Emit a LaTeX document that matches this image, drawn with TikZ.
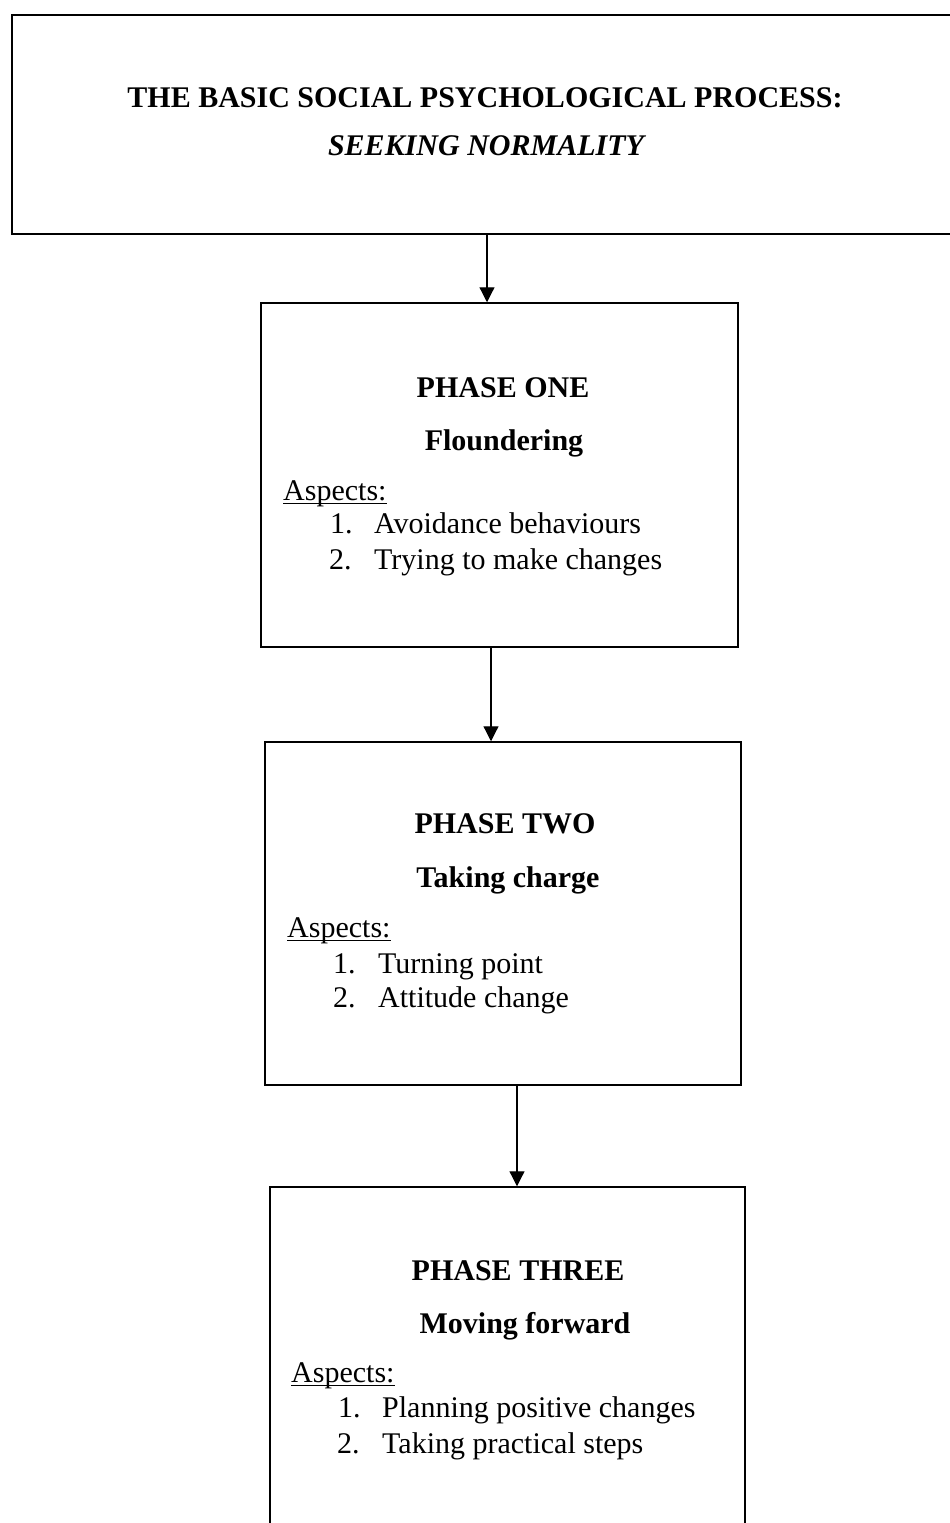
\documentclass[tikz,border=0pt]{standalone}
\usepackage{fontspec}
\setmainfont{Liberation Serif}
\usetikzlibrary{arrows.meta}
\begin{document}
\begin{tikzpicture}[x=1pt,y=-1pt,
  boxs/.style={draw=black,line width=1.5pt,rectangle,inner sep=0pt},
  arr/.style={line width=1.2pt,-{Triangle[length=15pt,width=15pt]}},
  uline/.style={line width=1.2pt},
  txt/.style={anchor=base,inner sep=0pt,font=\fontsize{30}{36}\selectfont},
  txtl/.style={anchor=base west,inner sep=0pt,font=\fontsize{30}{36}\selectfont}]
\useasboundingbox (0,0) rectangle (950,1523);
\clip (0,0) rectangle (950,1523);
\node[boxs,minimum width=948pt,minimum height=219pt] (top) at (486,124.5) {};
\node[boxs,minimum width=477pt,minimum height=344pt] (b1) at (499.5,475) {};
\node[boxs,minimum width=476pt,minimum height=343pt] (b2) at (503,913.5) {};
\node[boxs,minimum width=475pt,minimum height=353pt] (b3) at (507.5,1363.5) {};
% arrows
\coordinate (x1) at (487,0);
\coordinate (x2) at (491,0);
\coordinate (x3) at (517,0);
\draw[arr] (x1 |- top.south) -- (x1 |- b1.north);
\draw[arr] (x2 |- b1.south) -- (x2 |- b2.north);
\draw[arr] (x3 |- b2.south) -- (x3 |- b3.north);
% title
\node[txt] (t1) at (485,107) {\bfseries THE BASIC SOCIAL PSYCHOLOGICAL PROCESS:};
\node[txt] (t2) at (486,155) {\bfseries\itshape SEEKING NORMALITY};
% box 1
\node[txt] (p1) at (503,397) {\bfseries PHASE ONE};
\node[txt] (n1) at (504,450) {\bfseries Floundering};
\node[txtl] (a1) at (283,500) {Aspects:};
\draw[uline] ([yshift=-3.5pt]a1.base west) -- ([yshift=-3.5pt]a1.base east);
\node[txtl] (a1n1) at (330,533) {1.};
\node[txtl] (a1t1) at (374,533) {Avoidance behaviours};
\node[txtl] (a1n2) at (329,569) {2.};
\node[txtl] (a1t2) at (374,569) {Trying to make changes};
% box 2
\node[txt] (p2) at (505,833) {\bfseries PHASE TWO};
\node[txt] (n2) at (508,887) {\bfseries Taking charge};
\node[txtl] (a2) at (287,937) {Aspects:};
\draw[uline] ([yshift=-3.5pt]a2.base west) -- ([yshift=-3.5pt]a2.base east);
\node[txtl] (a2n1) at (333,973) {1.};
\node[txtl] (a2t1) at (378,973) {Turning point};
\node[txtl] (a2n2) at (333,1007) {2.};
\node[txtl] (a2t2) at (378,1007) {Attitude change};
% box 3
\node[txt] (p3) at (518,1280) {\bfseries PHASE THREE};
\node[txt] (n3) at (525,1333) {\bfseries Moving forward};
\node[txtl] (a3) at (291,1382) {Aspects:};
\draw[uline] ([yshift=-3.5pt]a3.base west) -- ([yshift=-3.5pt]a3.base east);
\node[txtl] (a3n1) at (338,1417) {1.};
\node[txtl] (a3t1) at (382,1417) {Planning positive changes};
\node[txtl] (a3n2) at (337,1453) {2.};
\node[txtl] (a3t2) at (382,1453) {Taking practical steps};
\end{tikzpicture}
\end{document}
